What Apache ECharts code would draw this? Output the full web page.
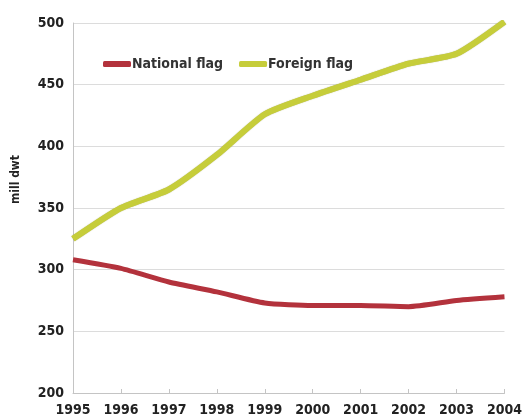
<!DOCTYPE html>
<html>
<head>
<meta charset="utf-8">
<script src="https://cdn.jsdelivr.net/npm/echarts@6/dist/echarts.min.js"></script>
<style>
  html, body { margin: 0; padding: 0; background: #fff; }
  #chart { width: 525px; height: 420px; }
</style>
</head>
<body>
<div id="chart"></div>
<script>
  // data
  var years = ['1995', '1996', '1997', '1998', '1999', '2000', '2001', '2002', '2003', '2004'];
  var nationalFlag = [308, 301, 290, 282, 273, 271, 271, 270, 275, 278];
  var foreignFlag = [325, 350, 365, 393, 426, 441, 454, 467, 475, 501];

  var font = 'Liberation Sans Narrow, DejaVu Sans Condensed, Arial, sans-serif';

  var chart = echarts.init(document.getElementById('chart'));
  var option = {
    animation: false,
    grid: { left: 73, right: 17, top: 23, bottom: 27 },
    legend: {
      left: 98,
      top: 52,
      itemWidth: 28,
      itemHeight: 6,
      itemGap: 16,
      icon: 'roundRect',
      textStyle: { fontFamily: font, fontWeight: 'bold', fontSize: 14, color: '#333', padding: [0, 0, 0, -4] },
      data: ['National flag', 'Foreign flag']
    },
    graphic: [{
      type: 'text',
      left: 10,
      top: 155,
      rotation: Math.PI / 2,
      style: { text: 'mill dwt', font: 'bold 12px ' + font, fill: '#222' }
    }],
    xAxis: {
      type: 'category',
      data: years,
      boundaryGap: false,
      axisLine: { lineStyle: { color: '#c4c4c4' } },
      axisTick: { inside: true, length: 4, lineStyle: { color: '#c4c4c4' } },
      axisLabel: { fontFamily: font, fontWeight: 'bold', fontSize: 14, color: '#222', margin: 10 },
      splitLine: { show: false }
    },
    yAxis: {
      type: 'value',
      min: 200,
      max: 500,
      interval: 50,
      axisLine: { show: true, lineStyle: { color: '#c4c4c4' } },
      axisTick: { show: false },
      axisLabel: { fontFamily: font, fontWeight: 'bold', fontSize: 14, color: '#222', margin: 9 },
      splitLine: { lineStyle: { color: '#dcdcdc' } }
    },
    series: [
      {
        name: 'National flag',
        type: 'line',
        data: nationalFlag,
        smooth: 0.2,
        showSymbol: false,
        color: '#b3323c',
        lineStyle: { width: 5, color: '#b3323c' }
      },
      {
        name: 'Foreign flag',
        type: 'line',
        data: foreignFlag,
        smooth: 0.2,
        showSymbol: false,
        color: '#c6cd3a',
        lineStyle: { width: 6, color: '#c6cd3a', shadowColor: 'rgba(120,125,20,0.6)', shadowBlur: 1 }
      }
    ]
  };
  option && chart.setOption(option);
</script>
</body>
</html>
